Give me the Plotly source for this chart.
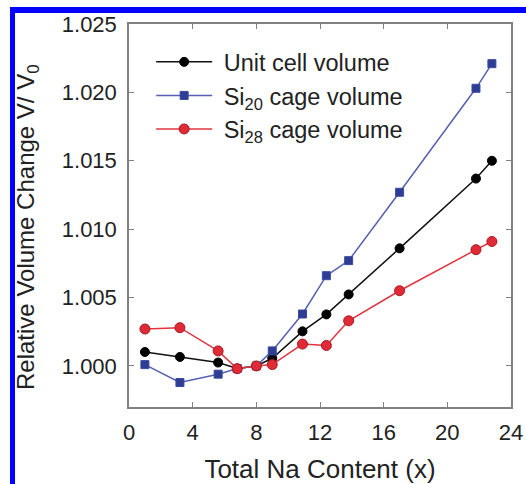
import plotly.graph_objects as go

na_content = [1.0, 3.2, 5.6, 6.8, 8.0, 9.0, 10.9, 12.4, 13.8, 17.0, 21.8, 22.8]
unit_cell = [1.00102, 1.00066, 1.00025, 0.99981, 1.0000, 1.00056, 1.00253, 1.00377, 1.00523, 1.0086, 1.0137, 1.0150]
si20_cage = [1.0001, 0.99879, 0.9994, 0.99981, 1.0000, 1.0011, 1.0038, 1.0066, 1.0077, 1.0127, 1.0203, 1.0221]
si28_cage = [1.0027, 1.0028, 1.0011, 0.9998, 1.0000, 1.0001, 1.0016, 1.0015, 1.0033, 1.0055, 1.0085, 1.0091]

x_ticks = [0, 4, 8, 12, 16, 20, 24]
y_ticks = [1.000, 1.005, 1.010, 1.015, 1.020, 1.025]
y_tick_text = ["1.000", "1.005", "1.010", "1.015", "1.020", "1.025"]

x_title = "Total Na Content (x)"
y_title = "Relative Volume Change V/ V<sub>0</sub>"

FONT = "Liberation Sans, Arial, sans-serif"
TEXT = "#222222"
AXIS = "#808080"
NB = "\u00a0"

fig = go.Figure()
fig.add_trace(go.Scatter(
    x=na_content, y=unit_cell, mode="lines+markers", name=NB + "Unit cell volume",
    line=dict(color="#111111", width=1.5),
    marker=dict(symbol="circle", size=9, color="#000000", line=dict(color="#000000", width=1)),
))
fig.add_trace(go.Scatter(
    x=na_content, y=si20_cage, mode="lines+markers", name=NB + "Si<sub>20</sub> cage volume",
    line=dict(color="#5560b0", width=1.5),
    marker=dict(symbol="square", size=8, color="#2e3c94", line=dict(color="#3a4aa0", width=1)),
))
fig.add_trace(go.Scatter(
    x=na_content, y=si28_cage, mode="lines+markers", name=NB + "Si<sub>28</sub> cage volume",
    line=dict(color="#e0343e", width=1.5),
    marker=dict(symbol="circle", size=10, color="#e02a36", line=dict(color="#a81a22", width=1)),
))

axis_common = dict(
    showline=True, linecolor=AXIS, linewidth=1.5, mirror="ticks",
    ticks="inside", ticklen=5, tickcolor=AXIS, tickwidth=1,
    showgrid=False, zeroline=False, automargin=False,
    tickfont=dict(family=FONT, size=22, color=TEXT),
)

fig.update_layout(
    width=526, height=484,
    margin=dict(l=129, r=15, t=24, b=77, autoexpand=False),
    paper_bgcolor="white", plot_bgcolor="white",
    font=dict(family=FONT, color=TEXT),
    showlegend=True,
    legend=dict(
        x=0.058, y=0.958, xanchor="left", yanchor="top",
        bgcolor="rgba(0,0,0,0)", borderwidth=0,
        font=dict(family=FONT, size=23.5, color=TEXT),
        itemwidth=56, tracegroupgap=0,
    ),
    xaxis=dict(
        range=[0, 24], tickvals=x_ticks,
        title=dict(text=x_title, font=dict(family=FONT, size=26, color=TEXT), standoff=18),
        ticklabelstandoff=5,
        **axis_common,
    ),
    yaxis=dict(
        range=[0.997, 1.025], tickvals=y_ticks, ticktext=y_tick_text,
        ticklabelstandoff=6,
        **axis_common,
    ),
)

# y-axis title placed as rotated text, centred where the reference shows it
fig.add_annotation(
    text=y_title, xref="paper", yref="paper", x=-0.2644, y=0.47,
    xanchor="center", yanchor="middle", textangle=-90, showarrow=False,
    font=dict(family=FONT, size=24, color=TEXT),
)

# blue frame decoration (left and top edges)
fig.add_shape(type="rect", xref="paper", yref="paper",
              x0=-0.3115, x1=-0.2984, y0=-0.21, y1=1.0444,
              fillcolor="#0000ff", line=dict(width=0), layer="above")
fig.add_shape(type="rect", xref="paper", yref="paper",
              x0=-0.3115, x1=1.05, y0=1.0287, y1=1.0444,
              fillcolor="#0000ff", line=dict(width=0), layer="above")

fig.write_html("out.html", config={"displayModeBar": False},
               post_script="document.body.style.margin='0';document.body.style.overflow='hidden';")
